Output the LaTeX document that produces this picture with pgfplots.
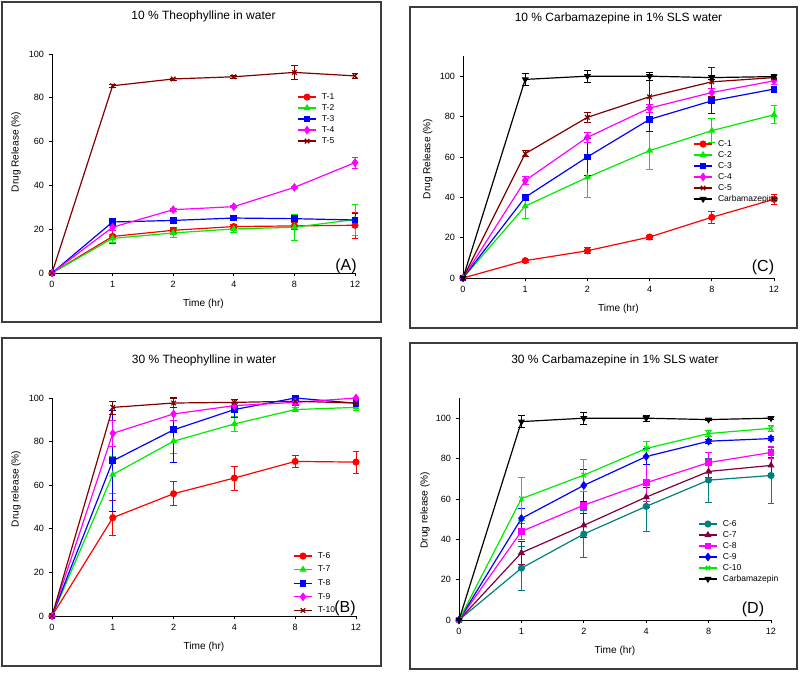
\documentclass[border=0pt]{standalone}
\usepackage{fontspec}
\setmainfont{Liberation Sans}
\usepackage{pgfplots}
\pgfplotsset{compat=1.18}

\definecolor{cRed}{RGB}{255,0,0}
\definecolor{cGreen}{RGB}{0,235,0}
\definecolor{cBlue}{RGB}{0,0,255}
\definecolor{cMag}{RGB}{255,0,255}
\definecolor{cDark}{RGB}{128,0,0}
\definecolor{cTeal}{RGB}{0,128,128}
\definecolor{cMaroon}{RGB}{128,0,64}
\definecolor{frame}{RGB}{60,60,60}

\pgfplotsset{
  panel/.style={
    scale only axis, clip=false,
    axis lines=left, axis line style={-, line width=0.6pt},
    xmin=0, xmax=5, ymin=0,
    xtick={0,...,5}, xticklabels={0,1,2,4,8,12},
    ytick={0,20,...,100},
    tick align=outside, major tick length=2.5pt,
    tick style={black, line width=0.6pt},
    tick label style={font=\fontsize{6.8}{8}\selectfont},
    /pgf/number format/assume math mode=true,
    title style={at={(0.5,1)}, anchor=center, yshift=22.5pt, font=\fontsize{9}{11}\selectfont},
    xlabel={Time (hr)},
    xlabel style={at={(0.5,0)}, anchor=center, yshift=-23.25pt, font=\fontsize{7.6}{9}\selectfont},
    ylabel style={anchor=center, font=\fontsize{7.6}{9}\selectfont},
    legend cell align=left,
    legend style={draw=none, fill=none, inner sep=0pt, outer sep=0pt, anchor=north west,
      font=\fontsize{6.4}{7}\selectfont, row sep=1.75pt,
      nodes={inner sep=0pt, text height=5pt, text depth=1.5pt},
      /tikz/every odd column/.append style={column sep=3.75pt}},
    legend image code/.code={\draw[mark repeat=2,mark phase=2] plot coordinates {(0pt,0pt) (7pt,0pt) (14pt,0pt)};},
    every axis plot/.append style={line width=0.9pt, mark size=2.2pt, mark options={solid},
      error bars/y dir=both, error bars/y explicit,
      error bars/error bar style={line width=0.5pt},
      error bars/error mark options={rotate=90, mark size=2.6pt, line width=0.5pt}},
  },
  sR/.style={cRed, mark=*},
  sG/.style={cGreen, mark=triangle*},
  sB/.style={cBlue, mark=square*, mark size=2.1pt},
  sM/.style={cMag, mark=diamond*, mark size=2.6pt},
  sX/.style={cDark, mark=x, mark size=2.4pt},
  sK/.style={black, mark=triangle*, mark options={rotate=180}},
}

\begin{document}
\begin{tikzpicture}
\useasboundingbox (0,0) rectangle (600pt,504pt);
% panel frames
\draw[frame, line width=1.1pt] (1.5pt,262.5pt) rectangle (285.75pt,502.5pt);
\draw[frame, line width=1.1pt] (307.5pt,258pt) rectangle (597.75pt,498.75pt);
\draw[frame, line width=1.1pt] (1.5pt,4.5pt) rectangle (285.75pt,250.5pt);
\draw[frame, line width=1.1pt] (307.5pt,2.25pt) rectangle (597.75pt,246.75pt);

% (A)
\begin{axis}[panel, at={(39pt,299.25pt)}, anchor=south west,
  width=227.25pt, height=164.25pt, ymax=100,
  title={10 \% Theophylline in water},
  ylabel={Drug Release (\%)},
  ylabel style={at={(axis description cs:-0.119,0.553)}},
  legend style={at={(axis description cs:0.809,0.823)}}]
\addplot[sR] coordinates {(0,0) +- (0,0) (1,16.7) +- (0,3) (2,19.5) +- (0,1.5) (3,21.2) +- (0,1) (4,21.5) +- (0,1.5) (5,21.8) +- (0,6)};
\addplot[sG] coordinates {(0,0) +- (0,0) (1,15.8) +- (0,2) (2,18.3) +- (0,2) (3,20.1) +- (0,1.5) (4,20.9) +- (0,6) (5,24.4) +- (0,7)};
\addplot[sB] coordinates {(0,0) +- (0,0) (1,23.3) +- (0,1.5) (2,24.0) +- (0,0.5) (3,25.1) +- (0,0.5) (4,24.8) +- (0,0.5) (5,24.2) +- (0,3)};
\addplot[sM] coordinates {(0,0) +- (0,0) (1,20.9) +- (0,1.5) (2,28.9) +- (0,0.8) (3,30.3) +- (0,0.5) (4,39.1) +- (0,0.5) (5,50.4) +- (0,2.5)};
\addplot[sX] coordinates {(0,0) +- (0,0) (1,85.5) +- (0,0.5) (2,88.6) +- (0,0.5) (3,89.6) +- (0,0.5) (4,91.6) +- (0,3) (5,90.0) +- (0,1.2)};
\legend{T-1,T-2,T-3,T-4,T-5}
\end{axis}

% (C)
\begin{axis}[panel, at={(347.25pt,295.5pt)}, anchor=south west,
  width=233.25pt, height=166.5pt, ymax=110,
  title={10 \% Carbamazepine in 1\% SLS water},
  ylabel={Drug Release (\%)},
  ylabel style={at={(axis description cs:-0.113,0.536)}},
  legend style={at={(axis description cs:0.740,0.623)}}]
\addplot[sR] coordinates {(0,0) +- (0,0) (1,8.6) +- (0,0.6) (2,13.5) +- (0,1.5) (3,20.3) +- (0,1) (4,30.1) +- (0,3) (5,39.0) +- (0,2.5)};
\addplot[sG] coordinates {(0,0) +- (0,0) (1,35.6) +- (0,6) (2,49.9) +- (0,10) (3,63.1) +- (0,9.5) (4,73.0) +- (0,6) (5,80.9) +- (0,4.5)};
\addplot[sB] coordinates {(0,0) +- (0,0) (1,40.0) +- (0,1) (2,60.0) +- (0,9) (3,78.6) +- (0,6) (4,87.8) +- (0,6) (5,93.6) +- (0,1.5)};
\addplot[sM] coordinates {(0,0) +- (0,0) (1,48.3) +- (0,2) (2,69.7) +- (0,2.5) (3,84.2) +- (0,2) (4,91.9) +- (0,2) (5,97.7) +- (0,1.5)};
\addplot[sX] coordinates {(0,0) +- (0,0) (1,61.6) +- (0,1.5) (2,79.6) +- (0,2.5) (3,89.8) +- (0,10) (4,97.2) +- (0,7) (5,99.3) +- (0,1)};
\addplot[sK] coordinates {(0,0) +- (0,0) (1,98.4) +- (0,3) (2,100) +- (0,3) (3,100) +- (0,2) (4,99.3) +- (0,1) (5,99.8) +- (0,1)};
\legend{C-1,C-2,C-3,C-4,C-5,Carbamazepine}
\end{axis}

% (B)
\begin{axis}[panel, at={(39pt,42pt)}, anchor=south west,
  width=228pt, height=163.5pt, ymax=100,
  title={30 \% Theophylline in water},
  ylabel={Drug release (\%)},
  ylabel style={at={(axis description cs:-0.118,0.583)}},
  legend style={at={(axis description cs:0.793,0.295)}, row sep=3.7pt}]
\addplot[sR] coordinates {(0,0) +- (0,0) (1,45.1) +- (0,8) (2,56.1) +- (0,5.5) (3,63.3) +- (0,5.5) (4,70.9) +- (0,2.8) (5,70.6) +- (0,5)};
\addplot[sG] coordinates {(0,0) +- (0,0) (1,64.9) +- (0,8.5) (2,80.2) +- (0,5.5) (3,88.1) +- (0,3.5) (4,94.7) +- (0,1) (5,95.7) +- (0,1.5)};
\addplot[sB] coordinates {(0,0) +- (0,0) (1,71.2) +- (0,23) (2,85.4) +- (0,15) (3,94.7) +- (0,3.5) (4,100) +- (0,0.5) (5,97.6) +- (0,1)};
\addplot[sM] coordinates {(0,0) +- (0,0) (1,83.8) +- (0,6) (2,92.7) +- (0,3) (3,96.5) +- (0,1) (4,98.0) +- (0,1) (5,100) +- (0,0.5)};
\addplot[sX] coordinates {(0,0) +- (0,0) (1,95.7) +- (0,3) (2,97.7) +- (0,2) (3,98.0) +- (0,1.5) (4,98.5) +- (0,2) (5,97.7) +- (0,1.5)};
\legend{T-6,T-7,T-8,T-9,T-10}
\end{axis}

% (D)
\begin{axis}[panel, at={(344.25pt,39pt)}, anchor=south west,
  width=234pt, height=166.5pt, ymax=110,
  title={30 \% Carbamazepine in 1\% SLS water},
  ylabel={Drug release (\%)},
  ylabel style={at={(axis description cs:-0.109,0.495)}},
  legend style={at={(axis description cs:0.766,0.452)}}]
\addplot[cTeal, mark=*] coordinates {(0,0) +- (0,0) (1,25.7) +- (0,11) (2,42.6) +- (0,11.5) (3,56.3) +- (0,12.5) (4,69.3) +- (0,11) (5,71.6) +- (0,14)};
\addplot[cMaroon, mark=triangle*] coordinates {(0,0) +- (0,0) (1,33.3) +- (0,5.5) (2,46.9) +- (0,6) (3,60.9) +- (0,5) (4,73.6) +- (0,3) (5,76.6) +- (0,4)};
\addplot[cMag, mark=square*, mark size=2.1pt] coordinates {(0,0) +- (0,0) (1,43.9) +- (0,4) (2,56.9) +- (0,2) (3,68.0) +- (0,9) (4,78.0) +- (0,5) (5,83.0) +- (0,3)};
\addplot[cBlue, mark=diamond*, mark size=2.6pt] coordinates {(0,0) +- (0,0) (1,50.3) +- (0,5) (2,66.7) +- (0,8) (3,81.0) +- (0,4) (4,88.6) +- (0,1) (5,89.9) +- (0,1)};
\addplot[cGreen, mark=x, mark size=2.4pt] coordinates {(0,0) +- (0,0) (1,60.1) +- (0,10.5) (2,71.8) +- (0,8) (3,85.0) +- (0,3.5) (4,92.4) +- (0,1.5) (5,95.0) +- (0,1.5)};
\addplot[sK] coordinates {(0,0) +- (0,0) (1,98.3) +- (0,3) (2,100) +- (0,3) (3,100) +- (0,1.5) (4,99.3) +- (0,0.5) (5,100) +- (0,0.5)};
\legend{C-6,C-7,C-8,C-9,C-10,Carbamazepin}
\end{axis}

% panel letters
\node[font=\fontsize{12}{14}\selectfont] at (259.5pt,304.5pt) {(A)};
\node[font=\fontsize{12}{14}\selectfont] at (572.25pt,303.75pt) {(C)};
\node[font=\fontsize{12}{14}\selectfont] at (258.75pt,48pt) {(B)};
\node[font=\fontsize{12}{14}\selectfont] at (564.75pt,47.25pt) {(D)};
\end{tikzpicture}
\end{document}
